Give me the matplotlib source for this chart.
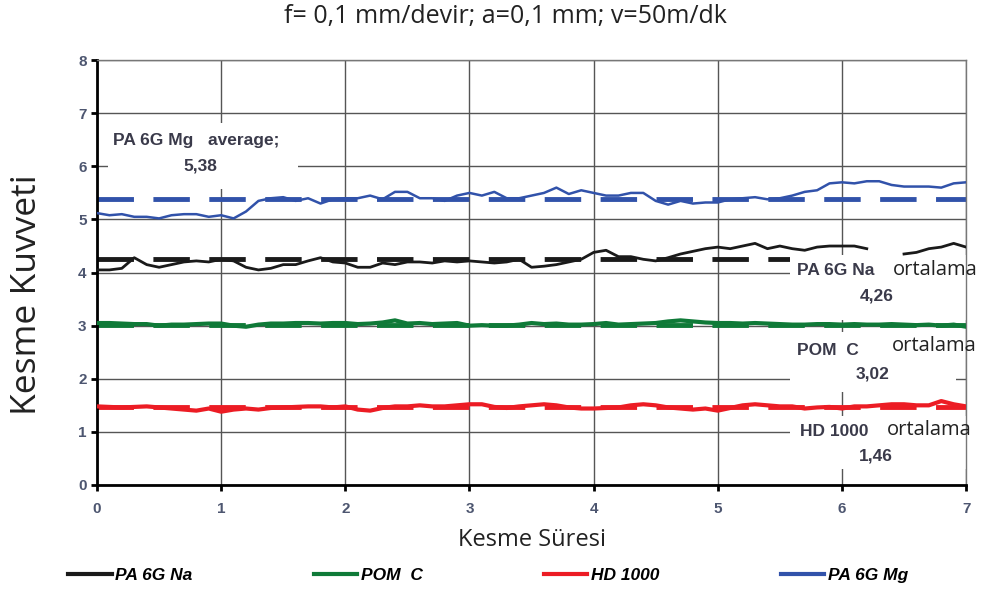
import numpy as np
import matplotlib
matplotlib.use('Agg')
import matplotlib.pyplot as plt
from matplotlib.patches import Rectangle
from matplotlib.lines import Line2D

plt.rcParams['font.family'] = ['Liberation Sans', 'DejaVu Sans']

# Kesme suresi (0 - 7, adim 0.1)
sure = np.round(np.arange(0, 7.01, 0.1), 1)

pa6g_mg = [5.12, 5.08, 5.10, 5.05, 5.05, 5.02, 5.08, 5.10, 5.10, 5.05,
           5.08, 5.02, 5.15, 5.35, 5.40, 5.42, 5.35, 5.40, 5.30, 5.38,
           5.40, 5.40, 5.45, 5.38, 5.52, 5.52, 5.40, 5.40, 5.35, 5.45,
           5.50, 5.45, 5.52, 5.40, 5.40, 5.45, 5.50, 5.60, 5.48, 5.55,
           5.50, 5.45, 5.45, 5.50, 5.50, 5.35, 5.28, 5.35, 5.30, 5.32,
           5.32, 5.38, 5.40, 5.42, 5.38, 5.40, 5.45, 5.52, 5.55, 5.68,
           5.70, 5.68, 5.72, 5.72, 5.65, 5.62, 5.62, 5.62, 5.60, 5.68, 5.70]

pa6g_na = [4.05, 4.05, 4.08, 4.28, 4.15, 4.10, 4.15, 4.20, 4.22, 4.20,
           4.25, 4.22, 4.10, 4.05, 4.08, 4.15, 4.15, 4.22, 4.28, 4.20,
           4.18, 4.10, 4.10, 4.18, 4.15, 4.20, 4.20, 4.18, 4.22, 4.20,
           4.22, 4.20, 4.18, 4.20, 4.25, 4.10, 4.12, 4.15, 4.20, 4.25,
           4.38, 4.42, 4.30, 4.30, 4.25, 4.22, 4.28, 4.35, 4.40, 4.45,
           4.48, 4.45, 4.50, 4.55, 4.45, 4.50, 4.45, 4.42, 4.48, 4.50,
           4.50, 4.50, 4.45, np.nan, np.nan, 4.35, 4.38, 4.45, 4.48, 4.55, 4.48]

pom_c = [3.05, 3.05, 3.04, 3.03, 3.03, 3.00, 3.02, 3.02, 3.03, 3.04,
         3.04, 3.00, 2.98, 3.02, 3.04, 3.04, 3.05, 3.05, 3.04, 3.05,
         3.05, 3.03, 3.04, 3.06, 3.10, 3.04, 3.05, 3.03, 3.04, 3.05,
         3.00, 3.01, 3.00, 3.00, 3.02, 3.05, 3.03, 3.04, 3.02, 3.02,
         3.03, 3.05, 3.02, 3.03, 3.04, 3.05, 3.08, 3.10, 3.08, 3.06,
         3.05, 3.05, 3.04, 3.05, 3.04, 3.03, 3.02, 3.02, 3.03, 3.03,
         3.02, 3.03, 3.02, 3.02, 3.03, 3.02, 3.01, 3.02, 3.00, 3.02, 2.98]

hd_1000 = [1.48, 1.47, 1.46, 1.47, 1.48, 1.46, 1.44, 1.42, 1.40, 1.44,
           1.38, 1.42, 1.44, 1.42, 1.45, 1.46, 1.47, 1.48, 1.48, 1.46,
           1.48, 1.42, 1.40, 1.45, 1.48, 1.48, 1.50, 1.48, 1.48, 1.50,
           1.52, 1.52, 1.47, 1.45, 1.48, 1.50, 1.52, 1.50, 1.46, 1.44,
           1.44, 1.45, 1.46, 1.50, 1.52, 1.50, 1.46, 1.44, 1.42, 1.44,
           1.40, 1.45, 1.50, 1.52, 1.50, 1.48, 1.48, 1.44, 1.46, 1.47,
           1.44, 1.48, 1.48, 1.50, 1.52, 1.52, 1.50, 1.50, 1.58, 1.52, 1.48]

# ortalamalar
ort_mg = 5.38
ort_na = 4.26
ort_pom = 3.02
ort_hd = 1.46

renk_na = '#1a1a1a'
renk_pom = '#0f7a38'
renk_hd = '#ec1c24'
renk_mg = '#3152aa'

fig = plt.figure(figsize=(9.82, 5.90), dpi=100)
ax = fig.add_axes([0.0988, 0.178, 0.885, 0.720])

# egriler
ax.plot(sure, pa6g_na, color=renk_na, lw=2, zorder=3)
ax.plot(sure, pom_c, color=renk_pom, lw=3, zorder=3)
ax.plot(sure, hd_1000, color=renk_hd, lw=3, zorder=3)
ax.plot(sure, pa6g_mg, color=renk_mg, lw=1.8, zorder=3)

# ortalama cizgileri (kesikli)
for ort, renk in [(ort_na, renk_na), (ort_pom, renk_pom), (ort_hd, renk_hd), (ort_mg, renk_mg)]:
    ax.plot([0, 7], [ort, ort], color=renk, lw=3.5, dashes=(7.5, 4), zorder=2)

ax.set_xlim(0, 7)
ax.set_ylim(0, 8)
ax.set_xticks(range(8))
ax.set_yticks(range(9))
ax.set_axisbelow(True)
ax.grid(True, color='#555555', lw=1)

for s in ['top', 'right']:
    ax.spines[s].set_color('#777777')
    ax.spines[s].set_linewidth(1)
for s in ['left', 'bottom']:
    ax.spines[s].set_color('black')
    ax.spines[s].set_linewidth(2)
ax.tick_params(axis='both', direction='out', length=4, width=2, color='black',
               labelsize=11, labelcolor='#4d5670')
for lab in ax.get_xticklabels() + ax.get_yticklabels():
    lab.set_fontweight('bold')
ax.tick_params(axis='x', pad=8)

# etiket kutulari (beyaz)
kutular = [(0.09, 5.58, 1.53, 1.24, 1),
           (5.58, 3.10, 1.55, 1.23, 2.5),
           (5.58, 1.75, 1.34, 1.13, 1),
           (5.58, 0.30, 1.55, 1.00, 1)]
for x0, y0, w, h, z in kutular:
    ax.add_patch(Rectangle((x0, y0), w, h, facecolor='white', edgecolor='none',
                           zorder=z, clip_on=False))

yazi = dict(color='#3a3a4a', fontsize=12.5, fontweight='bold', zorder=5, clip_on=False)
orta = dict(fontsize=14.5, color='#222222', family='Open Sans', zorder=5, clip_on=False)
ax.text(0.13, 6.49, 'PA 6G Mg   average;', va='center', ha='left', **yazi)
ax.text(0.83, 6.0, '5,38', va='center', ha='center', **yazi)

ax.text(5.64, 4.03, 'PA 6G Na', va='center', ha='left', **yazi)
ax.text(6.41, 4.05, 'ortalama', va='center', ha='left', **orta)
ax.text(6.28, 3.56, '4,26', va='center', ha='center', **yazi)

ax.text(5.64, 2.54, 'POM  C', va='center', ha='left', **yazi)
ax.text(6.40, 2.62, 'ortalama', va='center', ha='left', **orta)
ax.text(6.25, 2.09, '3,02', va='center', ha='center', **yazi)

ax.text(5.66, 1.00, 'HD 1000', va='center', ha='left', **yazi)
ax.text(6.36, 1.04, 'ortalama', va='center', ha='left', **orta)
ax.text(6.27, 0.54, '1,46', va='center', ha='center', **yazi)

# basliklar
fig.text(0.515, 0.972, 'f= 0,1 mm/devir; a=0,1 mm; v=50m/dk', ha='center', va='center',
         fontsize=18, family='Open Sans', color='#222222')
ax.set_xlabel('Kesme Süresi', fontsize=17, family='Open Sans', color='#222222', labelpad=9)
fig.text(0.027, 0.5, 'Kesme Kuvveti', rotation=90, ha='center', va='center',
         fontsize=25.5, family='Open Sans', color='#222222')

# lejant
tutamak = [Line2D([], [], color=renk_na, lw=3),
           Line2D([], [], color=renk_pom, lw=3),
           Line2D([], [], color=renk_hd, lw=3),
           Line2D([], [], color=renk_mg, lw=3)]
isimler = ['PA 6G Na', 'POM  C', 'HD 1000', 'PA 6G Mg']
fig.legend(tutamak, isimler, loc='center', bbox_to_anchor=(0.497, 0.025), ncol=4,
           frameon=False, handlelength=2.5, handletextpad=0.2, columnspacing=7.0,
           prop={'weight': 'bold', 'style': 'italic', 'size': 12.5})

plt.savefig('out.png', dpi=100)
